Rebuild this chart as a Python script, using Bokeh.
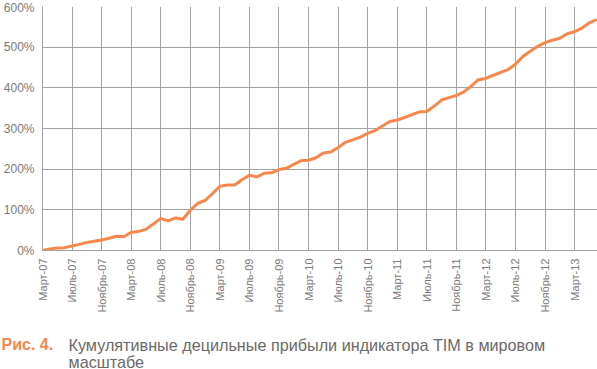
import math
from bokeh.plotting import figure
from bokeh.models import Range1d, FixedTicker, Label
from bokeh.layouts import column, row
from bokeh.embed import file_html
from bokeh.resources import INLINE

# ---- data ----
month_names = ["Январь", "Февраль", "Март", "Апрель", "Май", "Июнь",
               "Июль", "Август", "Сентябрь", "Октябрь", "Ноябрь", "Декабрь"]
start_year, start_month, n_months = 2007, 3, 76  # Mar-07 .. Jun-13

cumulative_pct = [
    0, 4, 6, 7, 11, 15, 20, 23, 26, 30,
    35, 34, 45, 47, 52, 65, 79, 73, 80, 77,
    99, 116, 123, 140, 158, 161, 161, 174, 185, 181,
    190, 191, 199, 202, 212, 221, 222, 228, 240, 242,
    253, 266, 272, 279, 288, 295, 306, 317, 321, 327,
    334, 341, 342, 355, 370, 376, 381, 390, 404, 420,
    423, 431, 438, 445, 458, 477, 490, 502, 511, 517,
    522, 533, 538, 547, 560, 568,
]
labeled_months = ["Март", "Июль", "Ноябрь"]
y_ticks = [0, 100, 200, 300, 400, 500, 600]

caption_num = "Рис. 4."
caption_lines = ["Кумулятивные децильные прибыли индикатора TIM в мировом", "масштабе"]

# ---- derived ----
month_idx = list(range(n_months))
month_labels = []
for k in month_idx:
    m = (start_month - 1 + k) % 12
    y = start_year + (start_month - 1 + k) // 12
    month_labels.append(f"{month_names[m]}-{y % 100:02d}")
x_ticks = [k for k in month_idx if month_labels[k].split("-")[0] in labeled_months]

ORANGE = "#f7874a"
GRID = "#a3a3a3"
LABEL = "#7a7a7a"
CAPTION = "#6a6a6a"
FONT = "Liberation Sans"

p = figure(width=597, height=330, output_backend="svg", toolbar_location=None,
           x_range=Range1d(0, 75.1), y_range=Range1d(0, 600),
           min_border_left=42, min_border_right=0, min_border_top=6, min_border_bottom=80)
p.outline_line_color = None
p.background_fill_color = "white"

p.line(month_idx, cumulative_pct, line_color=ORANGE, line_width=3, line_join="round")

xa = p.xaxis[0]
xa.ticker = FixedTicker(ticks=x_ticks)
xa.major_label_overrides = {k: month_labels[k] for k in x_ticks}
xa.major_label_orientation = math.pi / 2
xa.major_label_text_font = FONT
xa.major_label_text_font_size = "11px"
xa.major_label_text_color = LABEL
xa.major_label_standoff = 8
xa.major_tick_line_color = None
xa.major_tick_out = 0
xa.major_tick_in = 0
xa.minor_tick_line_color = None
xa.minor_tick_out = 0
xa.axis_line_color = GRID

ya = p.yaxis[0]
ya.ticker = FixedTicker(ticks=y_ticks)
ya.major_label_overrides = {v: f"{v}%" for v in y_ticks}
ya.major_label_text_font = FONT
ya.major_label_text_font_size = "12px"
ya.major_label_text_color = LABEL
ya.major_label_standoff = 8
ya.major_tick_line_color = None
ya.major_tick_out = 0
ya.major_tick_in = 0
ya.minor_tick_line_color = None
ya.minor_tick_out = 0
ya.axis_line_color = GRID

p.xgrid.ticker = FixedTicker(ticks=x_ticks)
p.ygrid.ticker = FixedTicker(ticks=y_ticks)
for g in (p.xgrid[0], p.ygrid[0]):
    g.grid_line_color = GRID
    g.grid_line_width = 1

# caption as a separate text-only figure
cap = figure(width=597, height=39, output_backend="svg", toolbar_location=None,
             x_range=Range1d(0, 597), y_range=Range1d(0, 39),
             x_axis_location=None, y_axis_location=None,
             min_border=0, min_border_left=0, min_border_right=0,
             min_border_top=0, min_border_bottom=0)
cap.outline_line_color = None
cap.grid.visible = False
cap.add_layout(Label(x=1, y=25, text=caption_num, text_font=FONT, text_font_size="16px",
                     text_font_style="bold", text_color=ORANGE, text_baseline="middle"))
cap.add_layout(Label(x=68, y=25, text=caption_lines[0], text_font=FONT, text_font_size="16.2px",
                     text_color=CAPTION, text_baseline="middle"))
cap.add_layout(Label(x=68, y=8, text=caption_lines[1], text_font=FONT, text_font_size="16.2px",
                     text_color=CAPTION, text_baseline="middle"))

layout = column(p, row(cap), spacing=0)
open("out.html", "w").write(file_html(layout, INLINE))
